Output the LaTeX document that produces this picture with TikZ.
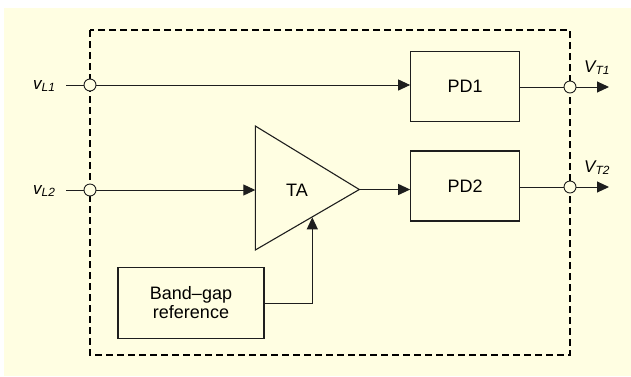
\documentclass[tikz,border=0pt]{standalone}
\usepackage{fontspec}
\setmainfont{Liberation Sans}
\usetikzlibrary{arrows.meta,calc}
\definecolor{paper}{HTML}{FFFEE2}
\definecolor{ink}{HTML}{1E1E1E}
\begin{document}
\begin{tikzpicture}[x=1pt,y=-1pt,
  block/.style={draw=ink, line width=1.1pt, fill=paper, inner sep=0pt,
    font=\fontsize{18}{20}\selectfont, align=center},
  port/.style={circle, draw=ink, line width=0.9pt, fill=paper,
    minimum size=12pt, inner sep=0pt},
  wire/.style={draw=ink, line width=1pt},
  sig/.style={wire, -{Triangle[length=12pt,width=11pt]}},
  pinlabel/.style={font=\fontsize{17}{20}\selectfont\itshape, inner sep=0pt},
  boundary/.style={draw=black, line width=1.8pt, dash pattern=on 7pt off 4pt}]
\useasboundingbox (0,0) rectangle (631,376);
\fill[paper] (4,8) rectangle (631,376);

% chip outline
\draw[boundary] (90,30) rectangle (570,355);

% blocks
\node[block, minimum width=109pt, minimum height=70pt] (pd1) at (465.2,86.3) {PD1};
\node[block, minimum width=109pt, minimum height=70pt] (pd2) at (465.2,186) {PD2};
\node[block, minimum width=146pt, minimum height=71pt] (bg) at (191,303)
  {Band--gap\\[-1pt]reference};

% transimpedance amplifier
\coordinate (ta-top) at (255.3,126);
\coordinate (ta-bot) at (255.3,250);
\coordinate (ta-out) at (359.3,189.5);
\coordinate (ta-in)  at (255.3,190);
\coordinate (ta-ref) at (312.3,217.3);
\draw[ink, line width=1.1pt, fill=paper, line join=miter] (ta-top) -- (ta-out) -- (ta-bot) -- cycle;
\node[font=\fontsize{18}{20}\selectfont] (ta) at (297,190) {TA};

% input pins
\node[port] (inl1) at (90,85) {};
\node[port] (inl2) at (90,190) {};
\coordinate (srcl1) at (66,85);
\coordinate (srcl2) at (66,190);
\node[pinlabel, anchor=base west] (lbl1) at (33,89) {v\textsubscript{L1}};
\node[pinlabel, anchor=base west] (lbl2) at (33,194) {v\textsubscript{L2}};

% output pins
\node[port] (outt1) at (570,87) {};
\node[port] (outt2) at (570,187) {};
\coordinate (endt1) at (609,87);
\coordinate (endt2) at (609,187);
\node[pinlabel, anchor=base west] (lbt1) at (584,72) {V\textsubscript{T1}};
\node[pinlabel, anchor=base west] (lbt2) at (584,172) {V\textsubscript{T2}};

% connections
\draw[wire] (srcl1) -- (inl1);
\draw[wire] (srcl2) -- (inl2);
\draw[sig] (inl1) -- (inl1 -| pd1.west);
\draw[sig] (inl2) -- (ta-in);
\draw[sig] (ta-out) -- (ta-out -| pd2.west);
\draw[sig] (bg.east) -| (ta-ref);
\draw[wire] (pd1.east |- outt1) -- (outt1);
\draw[wire] (pd2.east |- outt2) -- (outt2);
\draw[sig] (outt1) -- (endt1);
\draw[sig] (outt2) -- (endt2);
\end{tikzpicture}
\end{document}
